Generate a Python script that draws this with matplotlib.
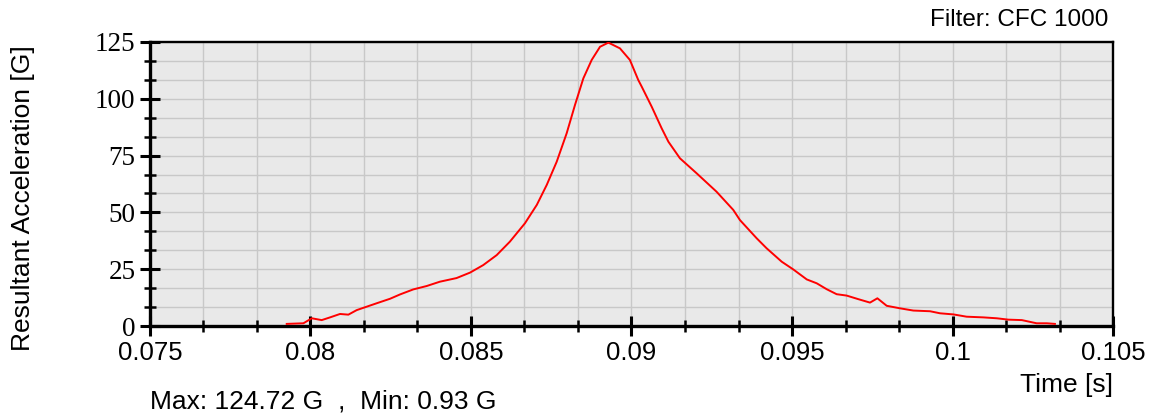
import numpy as np
import matplotlib
matplotlib.use("Agg")
import matplotlib.pyplot as plt
from matplotlib.ticker import MultipleLocator

# resultant acceleration trace (time in s, accel in G)
time_s = [0.07926, 0.07978, 0.08004, 0.08035, 0.08061, 0.08092, 0.08118, 0.08144,
          0.08175, 0.08206, 0.08248, 0.08279, 0.08320, 0.08362, 0.08403, 0.08455,
          0.08497, 0.08538, 0.08580, 0.08621, 0.08668, 0.08705, 0.08736, 0.08767,
          0.08798, 0.08824, 0.08850, 0.08876, 0.08902, 0.08928, 0.08964, 0.08995,
          0.09021, 0.09032, 0.09063, 0.09094, 0.09115, 0.09151, 0.09203, 0.09265,
          0.09317, 0.09338, 0.09390, 0.09421, 0.09468, 0.09504, 0.09546, 0.09577,
          0.09608, 0.09639, 0.09670, 0.09707, 0.09743, 0.09766, 0.09795, 0.09836,
          0.09878, 0.09930, 0.09961, 0.10003, 0.10044, 0.10096, 0.10138, 0.10174,
          0.10216, 0.10262, 0.10294, 0.10319]
accel_g = [0.93, 1.2, 3.4, 2.6, 3.8, 5.3, 5.0, 7.0,
           8.5, 10.0, 12.0, 13.9, 16.1, 17.6, 19.5, 21.1,
           23.5, 26.8, 31.2, 37.1, 45.2, 53.3, 62.1, 72.3,
           84.8, 97.3, 109.0, 117.1, 122.9, 124.72, 122.2, 117.1,
           108.3, 105.3, 96.5, 87.0, 81.1, 73.8, 67.2, 59.1,
           51.1, 46.6, 38.6, 34.2, 28.3, 24.9, 20.5, 18.8,
           16.2, 14.0, 13.4, 11.8, 10.3, 12.2, 8.9, 7.8,
           6.8, 6.5, 5.6, 5.1, 4.1, 3.8, 3.4, 2.8,
           2.6, 1.2, 1.2, 0.93]

x_ticks = [0.075, 0.08, 0.085, 0.09, 0.095, 0.1, 0.105]
x_labels = ["0.075", "0.08", "0.085", "0.09", "0.095", "0.1", "0.105"]
y_ticks = [0, 25, 50, 75, 100, 125]

fig = plt.figure(figsize=(11.51, 4.17), dpi=100)
ax = fig.add_axes([0.1303, 0.2182, 0.8367, 0.6811])
ax.set_facecolor("#e9e9e9")

ax.plot(time_s, accel_g, color="red", lw=1.4, zorder=3)

ax.set_xlim(0.075, 0.105)
ax.set_ylim(0, 125)
ax.set_xticks(x_ticks)
ax.set_xticklabels(x_labels)
ax.set_yticks(y_ticks)
ax.xaxis.set_minor_locator(MultipleLocator(0.005 / 3))
ax.yaxis.set_minor_locator(MultipleLocator(25 / 3))

ax.grid(True, which="both", color="#c8c8c8", lw=1.0, zorder=0)
ax.set_axisbelow(True)

ax.tick_params(axis="both", which="major", direction="inout", length=15, width=2.2)
ax.tick_params(axis="both", which="minor", direction="inout", length=8.5, width=1.8)
ax.tick_params(axis="x", which="major", pad=3, labelsize=18.5)
ax.tick_params(axis="y", which="major", pad=3)
for lab in ax.get_xticklabels():
    lab.set_fontfamily("Liberation Sans")
for lab in ax.get_yticklabels():
    lab.set_fontfamily("Liberation Serif")
    lab.set_fontsize(19.5)

for side in ["left", "bottom"]:
    ax.spines[side].set_linewidth(2.4)
for side in ["top", "right"]:
    ax.spines[side].set_linewidth(1.7)

sans = "Liberation Sans"
fig.text(0.020, 0.525, "Resultant Acceleration [G]", rotation=90, ha="center",
         va="center", fontsize=19, family=sans)
fig.text(0.963, 0.952, "Filter: CFC 1000", ha="right", va="center",
         fontsize=17.5, family=sans)
fig.text(0.967, 0.077, "Time [s]", ha="right", va="center", fontsize=19, family=sans)
fig.text(0.1303, 0.036, "Max: 124.72 G  ,  Min: 0.93 G", ha="left", va="center",
         fontsize=19, family=sans)

fig.savefig("out.png", dpi=100)
